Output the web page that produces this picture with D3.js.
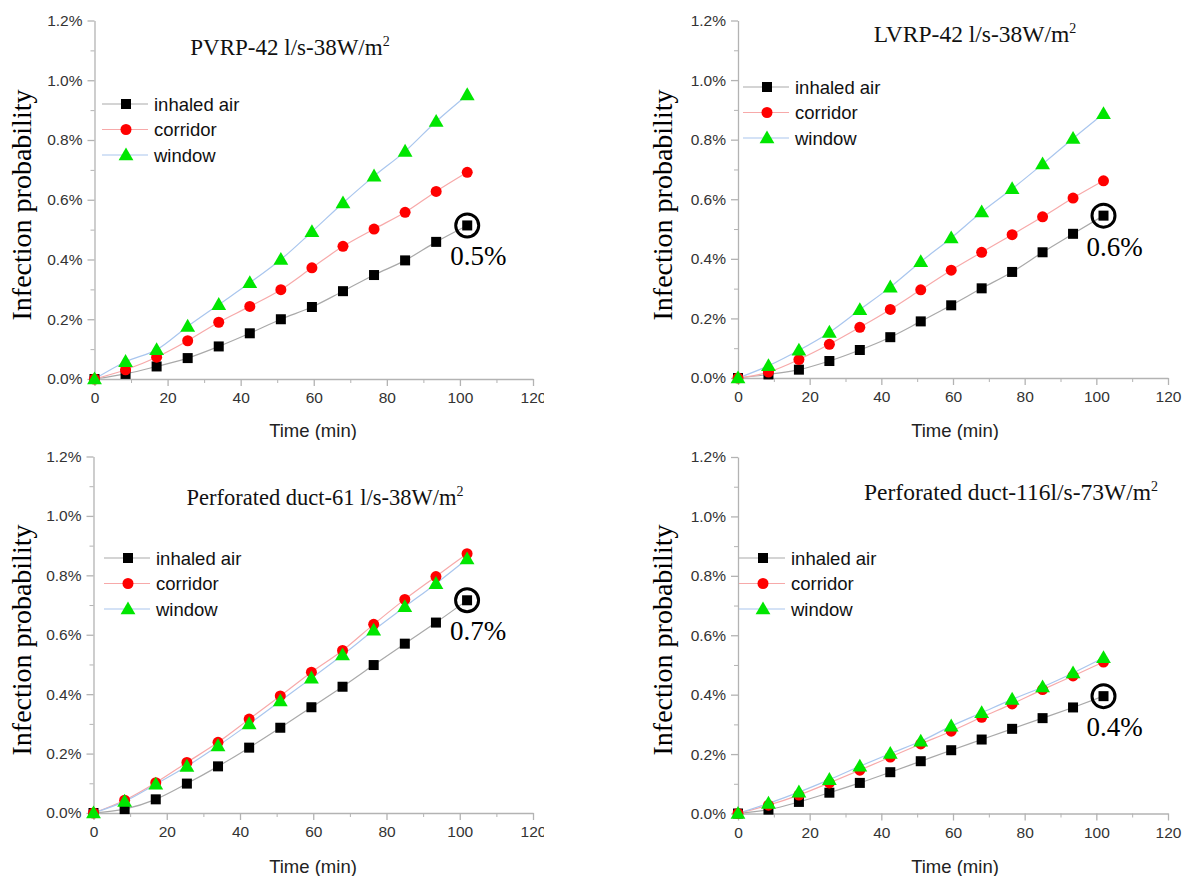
<!DOCTYPE html>
<html><head><meta charset="utf-8">
<script src="https://cdn.jsdelivr.net/npm/d3@7/dist/d3.min.js"></script>
<style>body{margin:0;background:#fff}svg{display:block}</style>
</head><body><svg id="c" width="1197" height="876"></svg>
<script>
const times = [0, 8.5, 17, 25.5, 34, 42.5, 51, 59.5, 68, 76.5, 85, 93.5, 102];
const seriesNames = ["inhaled air", "corridor", "window"];
const xTicks = [0, 20, 40, 60, 80, 100, 120];
const yTicks = [0, 0.2, 0.4, 0.6, 0.8, 1.0, 1.2];
const panelTitles = ["PVRP-42 l/s-38W/m", "LVRP-42 l/s-38W/m", "Perforated duct-61 l/s-38W/m", "Perforated duct-116l/s-73W/m"];
const annotations = ["0.5%", "0.6%", "0.7%", "0.4%"];

const p1Inhaled  = [0, 0.017, 0.042, 0.070, 0.109, 0.153, 0.200, 0.241, 0.294, 0.348, 0.397, 0.459, 0.514];
const p1Corridor = [0, 0.031, 0.073, 0.128, 0.190, 0.243, 0.299, 0.372, 0.444, 0.502, 0.558, 0.628, 0.692];
const p1Window   = [0, 0.058, 0.098, 0.176, 0.249, 0.322, 0.400, 0.493, 0.589, 0.679, 0.762, 0.862, 0.951];

const p2Inhaled  = [0, 0.012, 0.028, 0.057, 0.094, 0.137, 0.190, 0.244, 0.301, 0.356, 0.422, 0.484, 0.545];
const p2Corridor = [0, 0.020, 0.062, 0.113, 0.170, 0.230, 0.296, 0.362, 0.422, 0.481, 0.541, 0.604, 0.662];
const p2Window   = [0, 0.041, 0.093, 0.153, 0.229, 0.305, 0.390, 0.470, 0.557, 0.635, 0.718, 0.804, 0.887];

const p3Inhaled  = [0, 0.013, 0.046, 0.099, 0.157, 0.220, 0.287, 0.356, 0.425, 0.498, 0.570, 0.641, 0.716];
const p3Corridor = [0, 0.043, 0.102, 0.170, 0.238, 0.316, 0.394, 0.474, 0.547, 0.635, 0.719, 0.796, 0.873];
const p3Window   = [0, 0.039, 0.097, 0.157, 0.226, 0.300, 0.377, 0.454, 0.532, 0.615, 0.694, 0.772, 0.855];

const p4Inhaled  = [0, 0.013, 0.039, 0.070, 0.103, 0.139, 0.176, 0.213, 0.249, 0.285, 0.321, 0.357, 0.395];
const p4Corridor = [0, 0.028, 0.062, 0.103, 0.146, 0.190, 0.234, 0.277, 0.324, 0.369, 0.417, 0.463, 0.510];
const p4Window   = [0, 0.034, 0.072, 0.114, 0.159, 0.202, 0.243, 0.294, 0.339, 0.384, 0.426, 0.473, 0.524];

const panelData = [
  [p1Inhaled, p1Corridor, p1Window],
  [p2Inhaled, p2Corridor, p2Window],
  [p3Inhaled, p3Corridor, p3Window],
  [p4Inhaled, p4Corridor, p4Window]
];

// layout
const panels = [
  {x0: 94.5, x1: 533, y0: 379, y1: 20.5, title: [290, 55], tfs: 23, legend: [102, 104], ylab: [31, 205], xlab: [313, 437], clip: [0, 0, 544, 440]},
  {x0: 738, x1: 1168, y0: 378, y1: 20.5, title: [975, 42], tfs: 23.5, legend: [743, 87], ylab: [672, 205], xlab: [955, 437], clip: [640, 0, 557, 440]},
  {x0: 93.5, x1: 533, y0: 813, y1: 456.5, title: [325, 505], tfs: 22.5, legend: [104, 558], ylab: [31, 640], xlab: [313, 873], clip: [0, 440, 544, 436]},
  {x0: 738, x1: 1168, y0: 813.5, y1: 457, title: [1011, 500], tfs: 23.5, legend: [739, 558], ylab: [672, 640], xlab: [955, 873], clip: [640, 440, 557, 436]}
];

const lineColors = ["#a9a9a9", "#f7a9a9", "#a9c6ee"];
const markColors = ["#000000", "#ff0000", "#00e600"];
const axisColor = "#b3b3b3";
const svg = d3.select("#c");

function marker(g, k, cx, cy) {
  if (k === 0) {
    g.append("rect").attr("x", cx - 5).attr("y", cy - 5).attr("width", 10).attr("height", 10).attr("fill", markColors[0]);
  } else if (k === 1) {
    g.append("circle").attr("cx", cx).attr("cy", cy).attr("r", 5.5).attr("fill", markColors[1]);
  } else {
    g.append("path").attr("d", d3.symbol(d3.symbolTriangle, 95)()).attr("transform", `translate(${cx},${cy + 1})`).attr("fill", markColors[2]);
  }
}

panels.forEach((p, i) => {
  svg.append("clipPath").attr("id", "clip" + i).append("rect")
    .attr("x", p.clip[0]).attr("y", p.clip[1]).attr("width", p.clip[2]).attr("height", p.clip[3]);
  const g = svg.append("g").attr("clip-path", `url(#clip${i})`);
  const x = d3.scaleLinear().domain([0, 120]).range([p.x0, p.x1]);
  const y = d3.scaleLinear().domain([0, 1.2]).range([p.y0, p.y1]);

  // minor ticks
  const xMinor = d3.range(10, 120, 20);
  const yMinor = d3.range(0.1, 1.2, 0.2);
  g.append("g").attr("transform", `translate(0,${p.y0})`)
    .call(d3.axisBottom(x).tickValues(xMinor).tickSize(4).tickFormat(""))
    .call(a => a.select(".domain").remove())
    .call(a => a.selectAll("line").attr("stroke", axisColor));
  g.append("g").attr("transform", `translate(${p.x0},0)`)
    .call(d3.axisLeft(y).tickValues(yMinor).tickSize(4).tickFormat(""))
    .call(a => a.select(".domain").remove())
    .call(a => a.selectAll("line").attr("stroke", axisColor));

  const xa = g.append("g").attr("transform", `translate(0,${p.y0})`)
    .call(d3.axisBottom(x).tickValues(xTicks).tickSize(7).tickSizeOuter(0).tickPadding(6).tickFormat(d3.format("d")));
  const ya = g.append("g").attr("transform", `translate(${p.x0},0)`)
    .call(d3.axisLeft(y).tickValues(yTicks).tickSize(7).tickSizeOuter(0).tickPadding(5).tickFormat(d => d.toFixed(1) + "%"));
  [xa, ya].forEach(a => {
    a.selectAll("path,line").attr("stroke", axisColor).attr("stroke-width", 1.3);
    a.selectAll("text").attr("fill", "#333").attr("font-family", "Liberation Sans, Arial, sans-serif").attr("font-size", 15.5);
  });

  // lines
  const data = panelData[i];
  const line = d3.line().x((d, j) => x(times[j])).y(d => y(d)).curve(d3.curveMonotoneX);
  data.forEach((s, k) => {
    g.append("path").attr("d", line(s)).attr("fill", "none").attr("stroke", lineColors[k]).attr("stroke-width", 1.2);
  });
  data.forEach((s, k) => {
    s.forEach((v, j) => marker(g, k, x(times[j]), y(v)));
  });

  // title
  const t = g.append("text").attr("x", p.title[0]).attr("y", p.title[1]).attr("text-anchor", "middle")
    .attr("font-family", "Liberation Serif, Times New Roman, serif").attr("font-size", p.tfs).attr("fill", "#111");
  t.append("tspan").text(panelTitles[i]);
  t.append("tspan").attr("font-size", 14).attr("dy", -9).text("2");

  // y label
  g.append("text").attr("transform", `translate(${p.ylab[0]},${p.ylab[1]}) rotate(-90)`).attr("text-anchor", "middle")
    .attr("font-family", "Liberation Serif, Times New Roman, serif").attr("font-size", 28).attr("fill", "#000")
    .text("Infection probability");
  // x label
  g.append("text").attr("x", p.xlab[0]).attr("y", p.xlab[1]).attr("text-anchor", "middle")
    .attr("font-family", "Liberation Sans, Arial, sans-serif").attr("font-size", 18.5).attr("fill", "#222")
    .text("Time (min)");

  // legend
  seriesNames.forEach((n, k) => {
    const ly = p.legend[1] + k * 25.5;
    g.append("line").attr("x1", p.legend[0]).attr("x2", p.legend[0] + 46).attr("y1", ly).attr("y2", ly)
      .attr("stroke", lineColors[k]).attr("stroke-width", 1.2);
    marker(g, k, p.legend[0] + 24, ly);
    g.append("text").attr("x", p.legend[0] + 52).attr("y", ly + 6.5)
      .attr("font-family", "Liberation Sans, Arial, sans-serif").attr("font-size", 18.5).attr("fill", "#111").text(n);
  });

  // annotation
  const last = data[0][data[0].length - 1];
  const ax = x(times[times.length - 1]), ay = y(last);
  g.append("circle").attr("cx", ax).attr("cy", ay).attr("r", 11.5).attr("fill", "none").attr("stroke", "#000").attr("stroke-width", 3);
  g.append("text").attr("x", ax - 17).attr("y", ay + 40)
    .attr("font-family", "Liberation Serif, Times New Roman, serif").attr("font-size", 27).attr("fill", "#000")
    .text(annotations[i]);
});
</script></body></html>
